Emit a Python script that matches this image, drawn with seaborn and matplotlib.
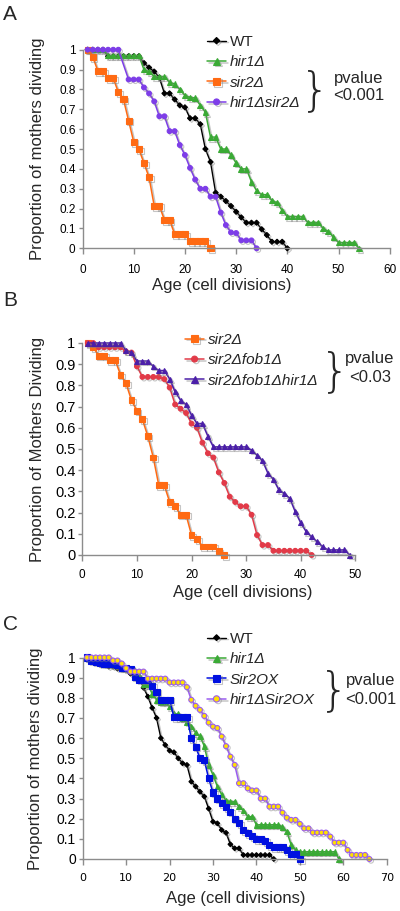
import matplotlib
matplotlib.use("Agg")
import matplotlib.pyplot as plt
import matplotlib.patheffects as pe
from matplotlib.ticker import FuncFormatter
import seaborn as sns

sns.set_style("ticks")
plt.rcParams['font.family'] = ['Liberation Sans', 'DejaVu Sans']

# ---- panel A ----
a_wt_age = list(range(1, 41))
a_wt = [1, 1, 1, 1, .967, .967, .967, .967, .967, .967, .967, .933, .91, .89, .86, .78, .78, .75, .72, .71,
        .655, .655, .625, .50, .435, .28, .26, .238, .213, .184, .156, .129, .129, .129, .096, .067, .033, .033, .033, 0]
a_hir1_age = list(range(1, 55))
a_hir1 = [1, 1, 1, 1, .971, .971, .971, .971, .971, .971, .971, .90, .89, .865, .865, .865, .836, .828, .80, .77,
          .76, .757, .72, .685, .56, .56, .50, .50, .47, .43, .40, .40, .335, .29, .27, .27, .24, .23, .19, .16,
          .16, .16, .16, .13, .13, .13, .10, .085, .057, .029, .029, .029, .029, 0]
a_sir2_age = list(range(1, 26))
a_sir2 = [1, .964, .893, .893, .857, .857, .786, .75, .643, .536, .50, .429, .357, .214, .214, .143, .143, .071,
          .071, .071, .036, .036, .036, .036, 0]
a_dbl_age = list(range(1, 8)) + list(range(9, 35))
a_dbl = [1, 1, 1, 1, 1, 1, 1, .85, .85, .85, .81, .78, .74, .665, .665, .59, .59, .52, .47, .405, .346, .30, .30,
         .26, .26, .18, .117, .08, .077, .04, .04, .04, 0]

# ---- panel B ----
b_sir2_age = list(range(1, 27))
b_sir2 = [1, .98, .94, .94, .92, .92, .85, .81, .73, .68, .64, .56, .46, .33, .33, .25, .23, .19, .19, .094,
          .075, .04, .04, .04, .02, 0]
b_fob1_age = list(range(1, 43))
b_fob1 = [1, 1, .98, .98, .98, .98, .98, .96, .955, .89, .84, .84, .84, .84, .83, .79, .71, .69, .67, .62, .60,
          .53, .48, .46, .39, .34, .275, .25, .23, .23, .19, .094, .047, .047, .02, .02, .02, .02, .02, .02, .02, 0]
b_trip_age = list(range(1, 50))
b_trip = [1, 1, 1, 1, 1, 1, 1, .965, .955, .915, .915, .915, .89, .87, .87, .83, .77, .73, .71, .66, .62, .62,
          .56, .51, .51, .51, .51, .51, .51, .51, .495, .47, .445, .385, .357, .307, .29, .267, .204, .152, .11,
          .086, .063, .04, .024, .024, .024, .024, 0]

# ---- panel C ----
c_wt_age = list(range(1, 45))
c_wt = [1, .985, .98, .965, .965, .955, .955, .945, .945, .94, .92, .90, .90, .85, .806, .75, .70, .60, .566,
        .538, .53, .50, .475, .467, .384, .36, .334, .31, .25, .185, .177, .144, .13, .073, .053, .053, .02, .02,
        .02, .02, .02, .02, .02, 0]
c_hir1_age = list(range(1, 60))
c_hir1 = [1, .99, .985, .985, .98, .975, .965, .96, .95, .945, .94, .935, .91, .865, .865, .82, .79, .78, .78,
          .757, .72, .72, .70, .68, .657, .627, .61, .56, .467, .417, .36, .32, .29, .285, .285, .26, .24, .21,
          .21, .17, .17, .17, .17, .17, .17, .16, .136, .07, .045, .036, .036, .036, .036, .036, .036, .036, .036,
          .036, 0]
c_ox_age = list(range(1, 51))
c_ox = [1, .985, .98, .975, .97, .97, .97, .965, .95, .95, .945, .905, .89, .89, .89, .86, .83, .79, .79, .79,
        .705, .705, .705, .705, .60, .557, .50, .49, .40, .33, .30, .277, .257, .235, .20, .177, .144, .13, .114,
        .10, .10, .09, .07, .06, .06, .06, .045, .025, .025, 0]
c_dbl_age = list(range(1, 67))
c_dbl = [1, 1, 1, 1, 1, 1, .985, .985, .97, .947, .93, .93, .93, .93, .895, .895, .895, .895, .895, .876, .876,
         .876, .876, .853, .79, .76, .74, .71, .677, .657, .65, .608, .56, .508, .467, .376, .376, .351, .34, .34,
         .30, .30, .26, .26, .26, .23, .205, .194, .194, .174, .152, .152, .131, .131, .131, .131, .111, .081,
         .081, .081, .045, .02, .02, .02, .02, 0]

W, H = 400, 911
fig = plt.figure(figsize=(W / 100, H / 100), dpi=100)


def add_axes(x0, x1, y_top, y_bot):
    return fig.add_axes([x0 / W, 1 - y_bot / H, (x1 - x0) / W, (y_bot - y_top) / H])


shadow = [pe.SimpleLineShadow(offset=(1.2, -1.2), shadow_color='0.5', alpha=0.45), pe.Normal()]


def series(ax, x, y, color, marker, ms, label, mfc=None, mec=None, lw=1.1):
    sns.lineplot(x=x, y=y, ax=ax, color=color, marker=marker, markersize=ms, linewidth=lw,
                 markerfacecolor=mfc or color, markeredgecolor=mec or color, markeredgewidth=0.8,
                 label=label, estimator=None, errorbar=None, sort=False, clip_on=False, path_effects=shadow)


def setup(ax, xmax, ylabel, yls, xls, xfont, xpad, ylab_x, xlab_xy):
    ax.set_xlim(0, xmax)
    ax.set_ylim(0, 1)
    ax.set_xticks(range(0, xmax + 1, 10))
    ax.set_yticks([i / 10 for i in range(11)])
    ax.yaxis.set_major_formatter(FuncFormatter(lambda v, p: f'{v:g}'))
    sns.despine(ax=ax)
    for s in ('left', 'bottom'):
        ax.spines[s].set_color('#8c8c8c')
        ax.spines[s].set_linewidth(1)
    ax.tick_params(axis='y', colors='#8c8c8c', labelcolor='black', length=3, width=1, pad=2, labelsize=yls)
    ax.tick_params(axis='x', colors='#8c8c8c', labelcolor='black', length=4, width=1, pad=xpad, labelsize=xls)
    for t in ax.get_xticklabels():
        t.set_fontfamily(xfont)
    ax.set_xlabel('Age (cell divisions)', fontsize=12)
    ax.set_ylabel(ylabel, fontsize=12)
    ax.yaxis.set_label_coords(ylab_x, 0.5)
    ax.xaxis.set_label_coords(*xlab_xy)
    ax.xaxis.label.set_va('top')


def legend(ax, x, ytop, fs, spacing):
    leg = ax.legend(loc='upper left', bbox_to_anchor=(x / W, 1 - ytop / H), bbox_transform=fig.transFigure,
                    frameon=False, fontsize=fs, handlelength=1.25, handletextpad=0.25, labelspacing=spacing,
                    borderpad=0, borderaxespad=0, markerscale=1.25)
    for t in leg.get_texts():
        if t.get_text() != 'WT':
            t.set_style('italic')


def brace(x, yc, size, px, y1, y2, t1, t2):
    fig.text(x / W, 1 - yc / H, '}', fontsize=size, ha='center', va='center', fontfamily='DejaVu Sans',
             fontweight='light')
    fig.text(px / W, 1 - y1 / H, t1, fontsize=12, ha='center', va='center')
    fig.text(px / W, 1 - y2 / H, t2, fontsize=12, ha='center', va='center')


# A
axA = add_axes(82.5, 389.7, 49.7, 248.3)
series(axA, a_wt_age, a_wt, 'black', 'D', 2.6, 'WT', lw=1.0)
series(axA, a_hir1_age, a_hir1, '#3aaa35', '^', 4.0, 'hir1Δ')
series(axA, a_sir2_age, a_sir2, '#ff6a13', 's', 4.4, 'sir2Δ')
series(axA, a_dbl_age, a_dbl, '#7d3de8', 'o', 3.4, 'hir1Δsir2Δ')
setup(axA, 60, 'Proportion of mothers dividing', 8.5, 8.5, 'Liberation Sans', 7, -0.122, (0.453, -0.15))
legend(axA, 207, 35, 11, 0.42)
brace(315, 91, 34, 359, 78, 96, 'pvalue', '<0.001')

# B
axB = add_axes(82.3, 355.3, 343, 555)
series(axB, b_sir2_age, b_sir2, '#ff6a13', 's', 4.2, 'sir2Δ')
series(axB, b_fob1_age, b_fob1, '#e23a48', 'o', 3.4, 'sir2Δfob1Δ')
series(axB, b_trip_age, b_trip, '#4b1fa8', '^', 3.6, 'sir2Δfob1Δhir1Δ')
setup(axB, 50, 'Proportion of Mothers Dividing', 10.5, 8.5, 'Liberation Sans', 6, -0.137, (0.587, -0.14))
legend(axB, 185, 333, 11, 0.42)
brace(335, 372, 34, 370, 358, 378, 'pvalue', '<0.03')

# C
axC = add_axes(82.7, 386.7, 657.5, 859)
series(axC, c_wt_age, c_wt, 'black', 'D', 2.4, 'WT', lw=1.0)
series(axC, c_hir1_age, c_hir1, '#3aaa35', '^', 4.0, 'hir1Δ')
series(axC, c_ox_age, c_ox, '#0010e0', 's', 4.4, 'Sir2OX')
series(axC, c_dbl_age, c_dbl, '#9a5cf0', 'o', 3.6, 'hir1ΔSir2OX', mfc='#ffe000', mec='#9a5cf0')
setup(axC, 70, 'Proportion of mothers dividing', 10, 8, 'DejaVu Sans', 6, -0.131, (0.504, -0.16))
legend(axC, 207, 632, 11, 0.42)
brace(334, 691, 34, 371, 680, 699, 'pvalue', '<0.001')

for lab, y in (('A', 15), ('B', 301), ('C', 624)):
    fig.text(3 / W, 1 - y / H, lab, fontsize=15, ha='left', va='center')

fig.savefig('out.png', dpi=100)
